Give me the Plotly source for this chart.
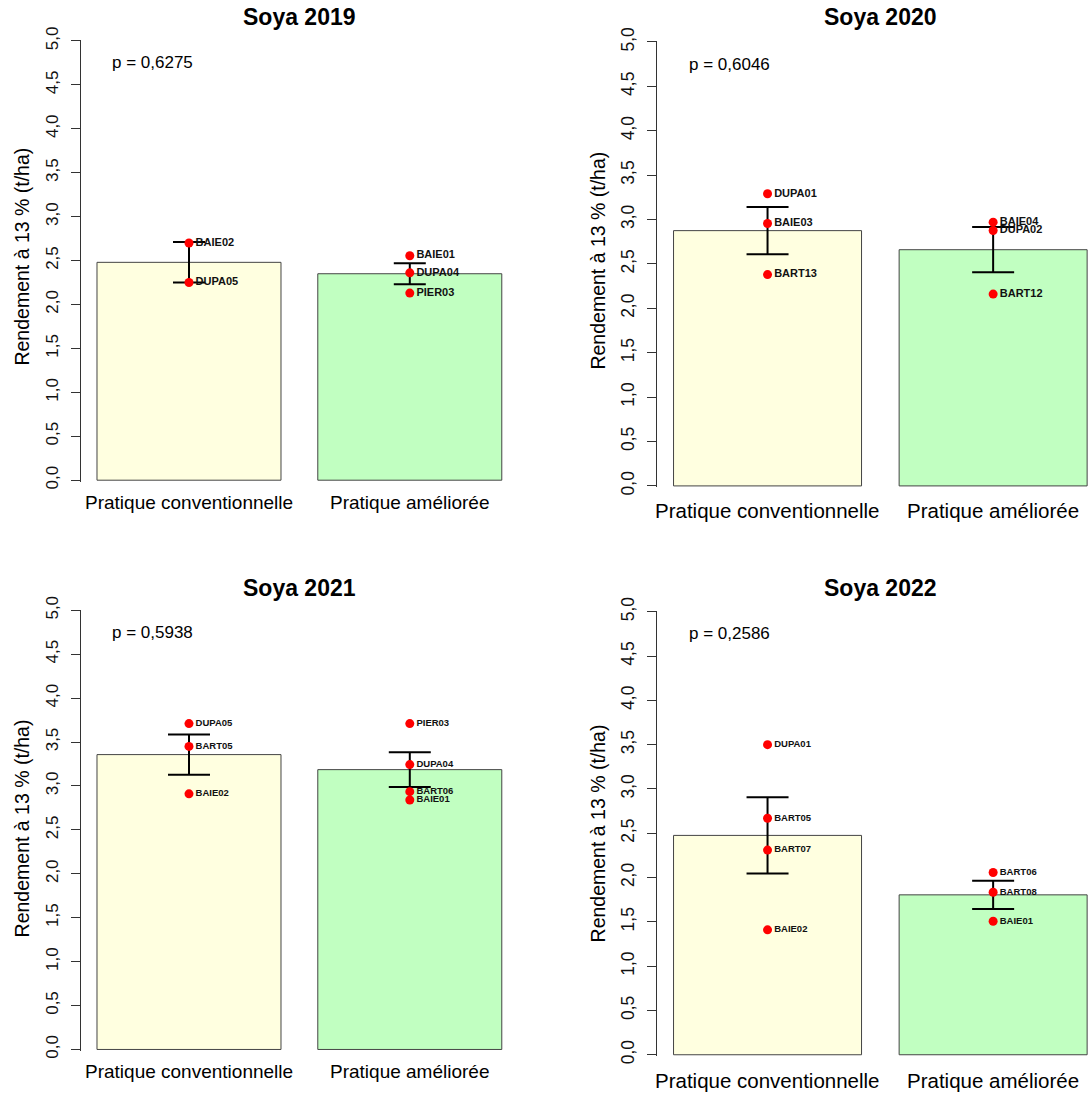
import plotly.graph_objects as go

# ---------------- data ----------------
categories = ["Pratique conventionnelle", "Pratique améliorée"]
titles = ["Soya 2019", "Soya 2020", "Soya 2021", "Soya 2022"]
p_labels = ["p = 0,6275", "p = 0,6046", "p = 0,5938", "p = 0,2586"]

y_ticks = [0, 0.5, 1, 1.5, 2, 2.5, 3, 3.5, 4, 4.5, 5]
y_tick_labels = ["0,0", "0,5", "1,0", "1,5", "2,0", "2,5", "3,0", "3,5", "4,0", "4,5", "5,0"]

means_2019 = [2.48, 2.35]
se_2019 = [0.23, 0.12]
conv_sites_2019 = ["BAIE02", "DUPA05"]
conv_vals_2019 = [2.70, 2.25]
amel_sites_2019 = ["BAIE01", "DUPA04", "PIER03"]
amel_vals_2019 = [2.555, 2.36, 2.13]

means_2020 = [2.875, 2.66]
se_2020 = [0.265, 0.255]
conv_sites_2020 = ["DUPA01", "BAIE03", "BART13"]
conv_vals_2020 = [3.29, 2.955, 2.38]
amel_sites_2020 = ["BAIE04", "DUPA02", "BART12"]
amel_vals_2020 = [2.97, 2.876, 2.16]

means_2021 = [3.357, 3.186]
se_2021 = [0.23, 0.198]
conv_sites_2021 = ["DUPA05", "BART05", "BAIE02"]
conv_vals_2021 = [3.71, 3.45, 2.91]
amel_sites_2021 = ["PIER03", "DUPA04", "BART06", "BAIE01"]
amel_vals_2021 = [3.71, 3.243, 2.935, 2.84]

means_2022 = [2.476, 1.805]
se_2022 = [0.43, 0.16]
conv_sites_2022 = ["DUPA01", "BART05", "BART07", "BAIE02"]
conv_vals_2022 = [3.50, 2.67, 2.31, 1.41]
amel_sites_2022 = ["BART06", "BART08", "BAIE01"]
amel_vals_2022 = [2.057, 1.835, 1.507]

means = [means_2019, means_2020, means_2021, means_2022]
ses = [se_2019, se_2020, se_2021, se_2022]
conv_sites = [conv_sites_2019, conv_sites_2020, conv_sites_2021, conv_sites_2022]
conv_vals = [conv_vals_2019, conv_vals_2020, conv_vals_2021, conv_vals_2022]
amel_sites = [amel_sites_2019, amel_sites_2020, amel_sites_2021, amel_sites_2022]
amel_vals = [amel_vals_2019, amel_vals_2020, amel_vals_2021, amel_vals_2022]

# ---------------- layout geometry (pixels) ----------------
W, H = 1089, 1099
FONT = "Arial, Liberation Sans, sans-serif"
bar_colors = ["#FFFFE0", "#C1FFC1"]

# vertical calibration of the photographed page
V_SCALE, V_OFF = 0.9776, 15.8


def vy(px):
    return (px - V_OFF) / V_SCALE


# left px of axis, px per category unit, px of y=5, px of y=0, label font, cap half-width,
# category font, tick font, title y px, category label y px, ytitle x px, ytitle y px
geom = [
    (80.8, 220.8, 41.7, 480.3, 11, 16, 19, 17, 18, 503, 22, 257),
    (657.0, 225.6, 42.7, 486.0, 11, 21, 20.5, 17.5, 18, 511, 598, 261),
    (80.8, 220.8, 610.2, 1048.7, 9.5, 21, 19, 17, 588, 1071, 22, 828),
    (657.0, 225.6, 611.7, 1054.0, 9.5, 21, 20.5, 17.5, 588, 1080, 598, 833),
]
x_lo = -0.49  # category-axis coordinate of the left edge of each plot region
y_lo, y_hi = -0.015, 5.005

fig = go.Figure()
annotations = []
layout_axes = {}

for i in range(4):
    (px_left, px_unit, px_y5, px_y0, lab_font, cap, cat_font, tick_font,
     title_y, cat_y, yt_x, yt_y) = geom[i]
    n = "" if i == 0 else str(i + 1)
    xa, ya = "x" + n, "y" + n
    px_right_full = px_left + px_unit * 1.98
    px_right = min(px_right_full, W)
    x_hi = x_lo + (px_right - px_left) / px_unit
    y5, y0 = vy(px_y5), vy(px_y0)
    unit = (y0 - y5) / 5.0
    top_px = y5 - (y_hi - 5) * unit
    bot_px = y0 - y_lo * unit
    layout_axes["xaxis" + n] = dict(
        domain=[px_left / W, px_right / W], range=[x_lo, x_hi], type="category",
        anchor=ya, showline=False, showgrid=False, zeroline=False,
        showticklabels=False, ticks="", fixedrange=True,
    )
    layout_axes["yaxis" + n] = dict(
        domain=[1 - bot_px / H, 1 - top_px / H], range=[y_lo, y_hi], anchor=xa,
        showline=True, linecolor="#333", linewidth=1, showgrid=False, zeroline=False,
        tickvals=y_ticks, ticktext=y_tick_labels, ticks="outside", ticklen=9,
        tickcolor="#333", tickwidth=1, tickangle=-90, ticklabelstandoff=6,
        tickfont=dict(family=FONT, size=tick_font, color="#111"), fixedrange=True,
    )
    fig.add_trace(go.Bar(
        x=categories, y=means[i], xaxis=xa, yaxis=ya,
        marker=dict(color=bar_colors, line=dict(color="#444", width=1)),
        width=1 / 1.2,
        error_y=dict(type="data", array=ses[i], visible=True, color="black",
                     thickness=2, width=cap),
        showlegend=False, hoverinfo="skip",
    ))
    for cat, sites, vals in [(categories[0], conv_sites[i], conv_vals[i]),
                             (categories[1], amel_sites[i], amel_vals[i])]:
        fig.add_trace(go.Scatter(
            x=[cat] * len(vals), y=vals, xaxis=xa, yaxis=ya,
            mode="markers+text", text=sites, textposition="middle right",
            marker=dict(color="#FF0000", size=9),
            textfont=dict(family=FONT, size=lab_font, color="#111", weight="bold"),
            cliponaxis=False, showlegend=False, hoverinfo="skip",
        ))
    annotations.append(dict(
        text="<b>" + titles[i] + "</b>", xref="paper", yref="paper",
        x=(px_left + px_right_full) / 2 / W, y=1 - vy(title_y) / H,
        xanchor="center", yanchor="middle", showarrow=False,
        font=dict(family=FONT, size=23, color="black"),
    ))
    annotations.append(dict(
        text=p_labels[i], xref=xa, yref=ya, x=-0.167, y=4.75,
        xanchor="center", yanchor="middle", showarrow=False,
        font=dict(family=FONT, size=17, color="black"),
    ))
    for c in categories:
        annotations.append(dict(
            text=c, xref=xa, yref="paper", x=c, y=1 - vy(cat_y) / H,
            xanchor="center", yanchor="middle", showarrow=False,
            font=dict(family=FONT, size=cat_font, color="black"),
        ))
    annotations.append(dict(
        text="Rendement à 13 % (t/ha)", xref="paper", yref="paper",
        x=yt_x / W, y=1 - vy(yt_y) / H, xanchor="center", yanchor="middle",
        textangle=-90, showarrow=False,
        font=dict(family=FONT, size=19.5, color="black"),
    ))

fig.update_layout(
    width=W, height=H, margin=dict(l=0, r=0, t=0, b=0, pad=0), autosize=False,
    paper_bgcolor="white", plot_bgcolor="white",
    annotations=annotations, bargap=0, **layout_axes,
)
fig.write_html(
    "out.html",
    config={"displayModeBar": False, "staticPlot": True},
    post_script="document.body.style.margin='0';document.body.style.overflow='hidden';",
)
